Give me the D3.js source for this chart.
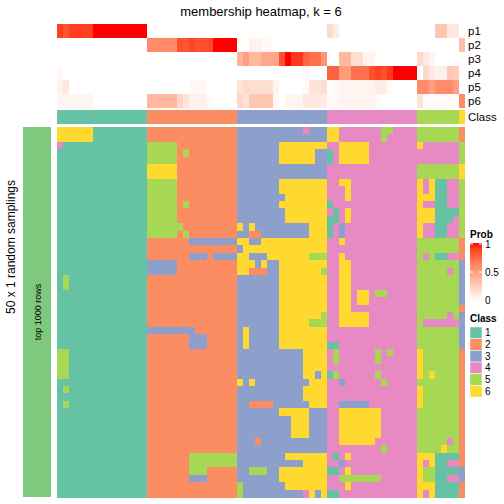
<!DOCTYPE html>
<html>
<head>
<meta charset="utf-8">
<script src="https://cdn.jsdelivr.net/npm/d3@7"></script>
<style>
  html, body { margin: 0; padding: 0; background: #ffffff; }
  svg { display: block; }
  text { font-family: "Liberation Sans", Arial, Helvetica, sans-serif; fill: #000; }
</style>
</head>
<body>
<svg id="chart" width="504" height="504"></svg>
<script>
// ---------------- data ----------------
const classLabels = ["1", "2", "3", "4", "5", "6"];
const classColors = ["#66c2a5", "#fc8d62", "#8da0cb", "#e78ac3", "#a6d854", "#ffd92f"];

// consensus class of each column (68 samples)
const columnClass = "111111111111111 222222222222222 333333333333333 444444444444444 5555555 6";

const probNames = ["p1", "p2", "p3", "p4", "p5", "p6"];
const p1 = [0.9,0.83,0.9,0.9,0.9,0.9,1,1,1,1,1,1,1,1,1,
            0,0,0,0,0,0,0,0,0,0,0,0,0,0,0,
            0,0,0,0,0,0,0,0,0,0,0,0,0,0,0,
            0.2,0.1,0,0,0,0,0,0,0,0,0,0,0,0,0,
            0,0,0,0.3,0.3,0.12,0.12,
            0];
const p2 = [0,0,0,0,0,0,0,0,0,0,0,0,0,0,0,
            0.6,0.6,0.6,0.6,0.6,0.85,0.82,0.88,0.85,0.85,0.87,1,1,1,1,
            0,0,0.07,0.07,0.04,0.02,0,0,0,0,0,0,0,0,0,
            0,0,0,0,0,0,0,0,0,0,0,0,0,0,0,
            0,0,0,0,0,0,0,
            0.35];
const p3 = [0,0,0,0,0,0,0,0,0,0,0,0,0,0,0,
            0,0,0,0,0,0,0,0,0,0,0,0,0,0,0,
            0.4,0.5,0.38,0.38,0.45,0.45,0.47,0.85,1,0.92,0.92,0.78,0.72,0.72,0.55,
            0,0,0.38,0.38,0.17,0.17,0.06,0.06,0,0,0,0,0,0,0,
            0.2,0.12,0.05,0,0,0,0,
            0];
const p4 = [0.04,0,0,0,0,0,0,0,0,0,0,0,0,0,0,
            0,0,0,0,0,0,0,0,0,0,0,0,0,0,0,
            0,0,0,0,0,0,0,0,0,0,0,0.04,0,0,0,
            0.78,0.78,0.52,0.52,0.72,0.72,0.72,0.85,0.88,0.85,0.92,1,1,1,1,
            0,0.2,0.12,0.08,0.08,0.3,0.27,
            0];
const p5 = [0.08,0.13,0,0,0,0,0,0,0,0,0,0,0,0,0,
            0,0,0,0,0,0,0,0.04,0.04,0.04,0,0,0,0,0,
            0.15,0.2,0.18,0.18,0.18,0.18,0.06,0,0,0,0,0.03,0.15,0.15,0.18,
            0,0.03,0.05,0.05,0.05,0.05,0.06,0.06,0.1,0.1,0.03,0,0,0,0,
            0.6,0.6,0.5,0.6,0.6,0.6,0.5,
            0];
const p6 = [0.05,0.05,0.05,0.05,0.05,0.05,0,0,0,0,0,0,0,0,0,
            0.38,0.38,0.38,0.38,0.38,0.22,0.15,0.07,0.07,0.07,0.03,0,0,0,0,
            0.22,0.15,0.3,0.3,0.3,0.3,0.04,0,0.06,0.06,0.06,0.12,0.12,0.12,0.1,
            0.03,0.03,0.06,0.06,0.06,0.06,0.06,0.06,0.03,0,0,0,0,0,0,
            0.15,0.02,0.02,0.02,0.02,0.02,0.02,
            0.6];

// class assigned in each of the 50 random samplings (rows) for each column
const samplingRows = [
  "666666111111111 222222222222222 333333333334333 664444444554444 5555555 2",
  "666666111111111 222222222222222 333333333333333 664444444544444 5555555 2",
  "411111111111111 555552222222222 333333366666666 446666644444444 6444444 5",
  "111111111111111 555552522222222 333333366666633 146666644444444 4444444 5",
  "111111111111111 555552222222222 333333366666633 146666644444444 4444444 5",
  "111111111111111 666662222222222 333333333333333 444444444444444 5555555 6",
  "111111111111111 666662222222222 333333333333333 444444444444444 5555555 6",
  "111111111111111 555552222222222 333333366666666 446644444444444 6461144 5",
  "111111111111111 555552222222222 333333366666666 444644444444444 6461144 5",
  "111111111111111 555552222222222 333333336666666 444644444444444 6661144 5",
  "111111111111111 555552522222222 333333366666666 144444444444444 6441144 5",
  "111111111111111 555552222222222 333333336666666 414644444444444 6661111 5",
  "111111111111111 555552222222222 333333336666666 114644444444444 6661114 5",
  "111111111111111 555555222222222 636333333333666 143444444444444 6441144 5",
  "111111111111111 555552522222222 332233333333666 143444444444444 6441144 5",
  "111111111111111 222222233333333 663366666666666 446444444444444 5555555 2",
  "111111111111111 222222222222222 366666666666666 444444444444444 5555555 2",
  "111111111111111 222222233323333 663336666666555 446444444444444 5451144 2",
  "111111111111111 333332222222222 666363366666666 446644444444444 5555555 3",
  "111111111111111 333332222222222 662223366666665 446644444444444 5555545 3",
  "151111111111111 222222222222222 333333366666666 446644444444444 5555555 3",
  "151111111111111 222222222222222 333333366666666 446644444444444 5555555 3",
  "111111111111111 222222222222222 333333366666666 446646645544444 5555555 3",
  "111111111111111 222222222222222 333333366666666 446646644444444 5555555 3",
  "111111111111111 222222222222222 333333366666666 446644444444444 5555555 2",
  "111111111111111 222222222222222 333333366666665 446666644444444 5555545 3",
  "111111111111111 222222222222222 333333366666555 446666644444444 5444444 3",
  "111111111111111 333333332222222 363333366666666 444444444444444 5555555 3",
  "111111111111111 222222233322222 363333366666666 444444444444444 5555555 3",
  "111111111111111 222222233322222 363333366666666 114444444444444 5555555 3",
  "551111111111111 222222222222222 333333333336666 454444445454444 6555555 2",
  "551111111111111 222222222222222 333333333336666 454444445444444 6555555 2",
  "551111111111111 222222222222222 333333333336666 444444444444444 6555555 2",
  "551111111111111 222222222222222 333333333336636 154444445444444 6565555 2",
  "111111111111111 222222222222222 636333333333666 443444444544444 5555555 2",
  "151111111111111 222222222222222 333333333336666 444444444444444 6555555 2",
  "111111111111111 222222222222222 333333333336666 444444444444444 6555555 2",
  "151111111111111 222222222222222 332222333333666 443333344444444 6555555 2",
  "111111111111111 222222222222222 333333366666333 446666666444444 5555555 2",
  "111111111111111 222222222222222 333333333666333 446666666444444 5555555 2",
  "111111111111111 222222222222222 333333333666333 446666666444444 5555555 2",
  "111111111111111 222222222222222 333333333666333 446666666444444 5555555 2",
  "111111111111111 222222222222222 333233333333333 446666664444444 5555545 2",
  "111111111111111 222222222222222 333333333333333 444444444544444 5555655 2",
  "111111111111111 222222255555555 333333336666666 414644444444444 6661111 2",
  "111111111111111 222222255555555 333333333336666 443444444444444 6461144 2",
  "111111111111111 222222255522222 335553366666666 114644444444444 6551111 3",
  "111111111111111 222222233322222 333333366666666 445555555444444 6551144 3",
  "111111111111111 222222222222222 533333336666666 444644444444444 6661111 2",
  "111111111111111 222222222222222 533333333334636 114444444444444 6461111 2"
];

const titleText = "membership heatmap, k = 6";
const leftAnnoLabel = "top 1000 rows";
const sideTitle = "50 x 1 random samplings";
const probTicks = [0, 0.5, 1];
const probTickLabels = ["0", "0.5", "1"];

// ---------------- drawing ----------------
const svg = d3.select("#chart");
const cls = columnClass.replace(/ /g, "").split("").map(Number);
const nCol = cls.length;
const matrix = samplingRows.map(r => r.replace(/ /g, "").split("").map(Number));
const probs = [p1, p2, p3, p4, p5, p6];

const x = d3.scaleBand().domain(d3.range(nCol)).range([57, 465]);
const y = d3.scaleBand().domain(d3.range(matrix.length)).range([127, 497]);
const yTop = d3.scaleBand().domain(probNames).range([24, 108]);
const classColor = d3.scaleOrdinal().domain([1,2,3,4,5,6]).range(classColors);
const probColor = d3.scaleLinear().domain([0, 1]).range(["#ffffff", "#ff0000"]).interpolate(d3.interpolateLab);

// title
svg.append("text").attr("x", 261).attr("y", 16).attr("text-anchor", "middle")
  .style("font-size", "13px").text(titleText);

// probability annotation rows
const gTop = svg.append("g").attr("shape-rendering", "crispEdges");
probNames.forEach((name, i) => {
  gTop.selectAll(null).data(probs[i]).enter().append("rect")
    .attr("x", (d, j) => x(j)).attr("y", yTop(name))
    .attr("width", x.bandwidth()).attr("height", yTop.bandwidth())
    .attr("fill", d => probColor(d));
  svg.append("text").attr("x", 468).attr("y", yTop(name) + yTop.bandwidth() / 2)
    .attr("dy", "0.35em").style("font-size", "11.5px").text(name);
});

// class annotation row
gTop.selectAll(null).data(cls).enter().append("rect")
  .attr("x", (d, j) => x(j)).attr("y", 110)
  .attr("width", x.bandwidth()).attr("height", 14)
  .attr("fill", d => classColor(d));
svg.append("text").attr("x", 468).attr("y", 117).attr("dy", "0.35em")
  .style("font-size", "11.5px").text("Class");

// main heatmap
const gMain = svg.append("g").attr("shape-rendering", "crispEdges");
matrix.forEach((row, r) => {
  gMain.selectAll(null).data(row).enter().append("rect")
    .attr("x", (d, j) => x(j)).attr("y", y(r))
    .attr("width", x.bandwidth()).attr("height", y.bandwidth() + 0.5)
    .attr("fill", d => classColor(d));
});

// left annotation
svg.append("rect").attr("x", 23).attr("y", 127).attr("width", 28).attr("height", 370)
  .attr("fill", "#7fc97f");
svg.append("text").attr("transform", "translate(41,312) rotate(-90)")
  .attr("text-anchor", "middle").style("font-size", "9px").text(leftAnnoLabel);
svg.append("text").attr("transform", "translate(15,247) rotate(-90)")
  .attr("text-anchor", "middle").style("font-size", "12px").text(sideTitle);

// Prob legend
const defs = svg.append("defs");
const grad = defs.append("linearGradient").attr("id", "probGrad")
  .attr("x1", 0).attr("y1", 1).attr("x2", 0).attr("y2", 0);
d3.range(0, 1.0001, 0.1).forEach(t => {
  grad.append("stop").attr("offset", t).attr("stop-color", probColor(t));
});
const legY = d3.scaleLinear().domain([0, 1]).range([300, 244]);
svg.append("text").attr("x", 470).attr("y", 238).style("font-size", "10px")
  .style("font-weight", "bold").text("Prob");
svg.append("rect").attr("x", 470).attr("y", 243).attr("width", 12).attr("height", 58)
  .attr("fill", "url(#probGrad)");
probTicks.forEach((t, i) => {
  svg.append("line").attr("x1", 470).attr("x2", 473).attr("y1", legY(t)).attr("y2", legY(t))
    .attr("stroke", "#fff").attr("stroke-width", 1);
  svg.append("line").attr("x1", 479).attr("x2", 482).attr("y1", legY(t)).attr("y2", legY(t))
    .attr("stroke", "#fff").attr("stroke-width", 1);
  svg.append("text").attr("x", 485).attr("y", legY(t)).attr("dy", "0.35em")
    .style("font-size", "10px").text(probTickLabels[i]);
});

// Class legend
svg.append("text").attr("x", 470).attr("y", 322).style("font-size", "10px")
  .style("font-weight", "bold").text("Class");
const keyY = d3.scaleBand().domain(classLabels).range([327, 397]);
classLabels.forEach((lab, i) => {
  svg.append("rect").attr("x", 470).attr("y", keyY(lab)).attr("width", 12)
    .attr("height", keyY.bandwidth()).attr("fill", classColors[i])
    .attr("stroke", "#fff").attr("stroke-width", 0.5);
  svg.append("text").attr("x", 485).attr("y", keyY(lab) + keyY.bandwidth() / 2)
    .attr("dy", "0.35em").style("font-size", "10px").text(lab);
});
</script>
</body>
</html>
